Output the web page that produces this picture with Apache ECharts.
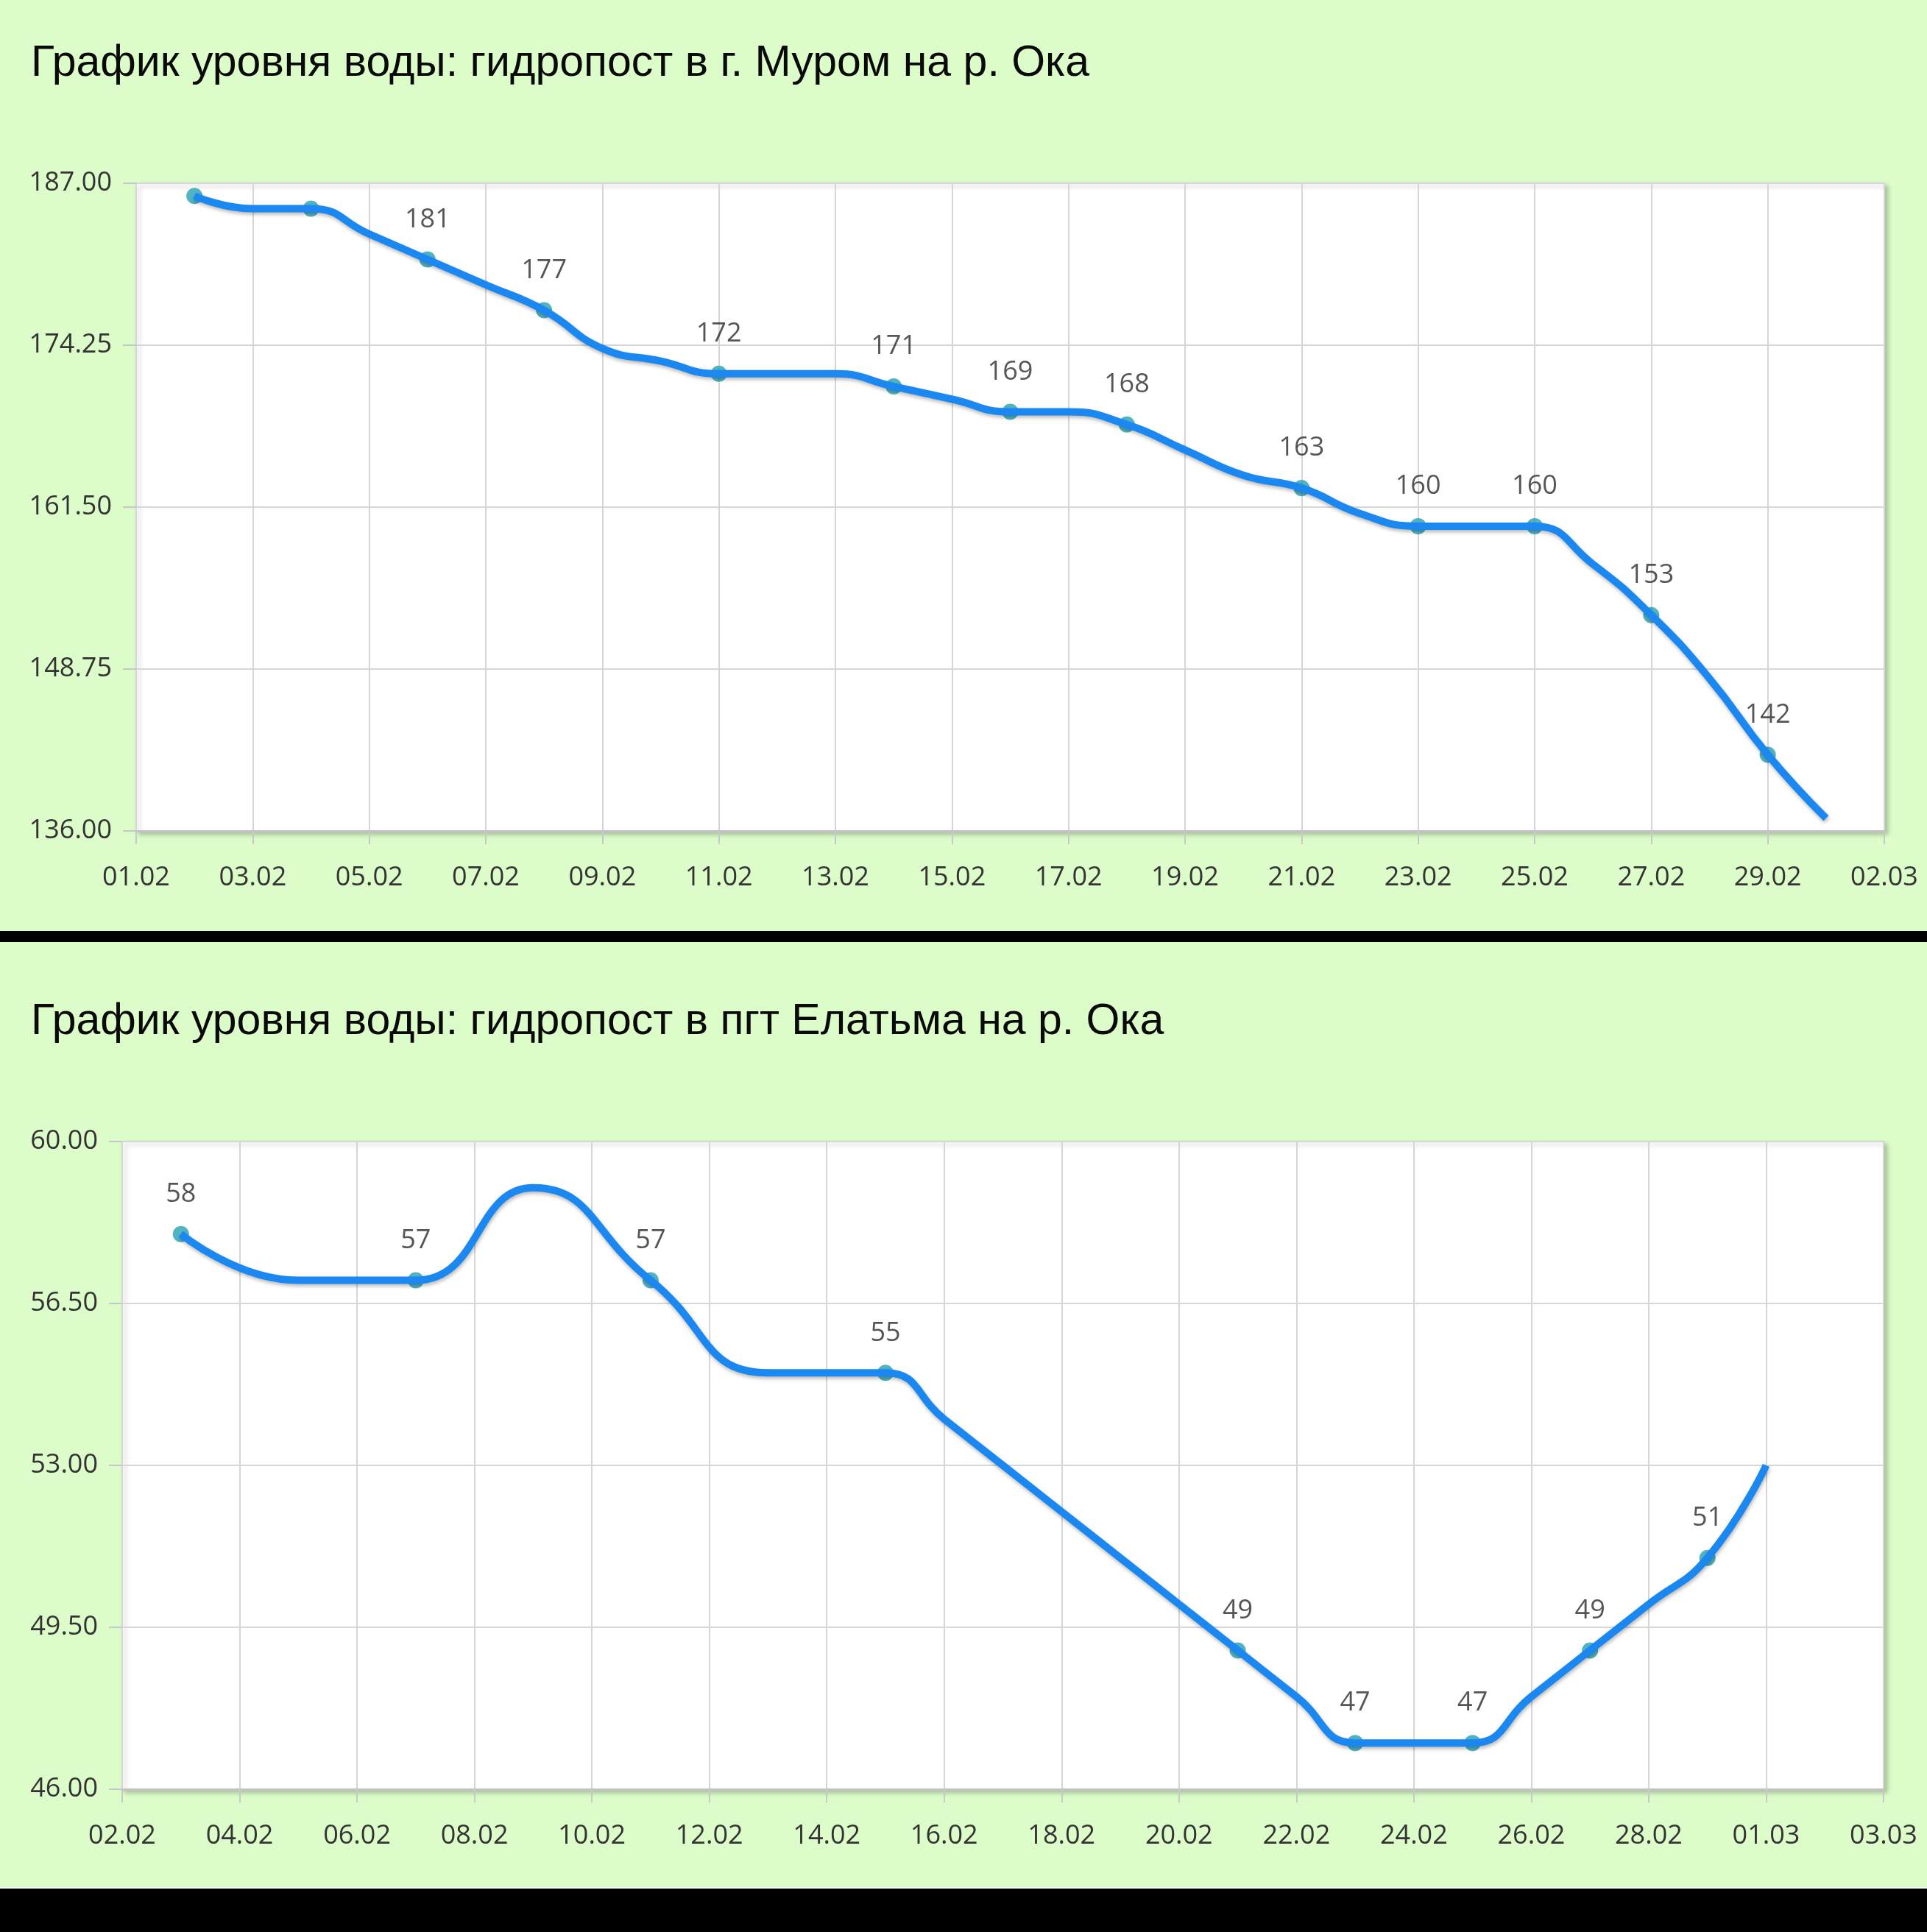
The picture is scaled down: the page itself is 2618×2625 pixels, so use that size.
<!DOCTYPE html>
<html>
<head>
<meta charset="utf-8">
<script src="https://cdn.jsdelivr.net/npm/echarts@6/dist/echarts.min.js"></script>
<style>
html,body{margin:0;padding:0;background:#dcfcc9;}
#c{width:2618px;height:2625px;}
</style>
</head>
<body>
<div id="c"></div>
<script>
// ---------- data: chart 1 (Муром) ----------
const title1 = 'График уровня воды: гидропост в г. Муром на р. Ока';
const axisStart1 = '2024-02-01';
const yTicks1 = [136, 148.75, 161.5, 174.25, 187];
const dates1 = ['2024-02-02','2024-02-03','2024-02-04','2024-02-05','2024-02-06','2024-02-07','2024-02-08',
  '2024-02-09','2024-02-10','2024-02-11','2024-02-12','2024-02-13','2024-02-14','2024-02-15','2024-02-16',
  '2024-02-17','2024-02-18','2024-02-19','2024-02-20','2024-02-21','2024-02-22','2024-02-23','2024-02-24',
  '2024-02-25','2024-02-26','2024-02-27','2024-02-28','2024-02-29','2024-03-01'];
const values1 = [186,185,185,183,181,179,177,174,173,172,172,172,171,170,169,169,168,166,164,163,161,160,160,160,157,153,148,142,137];
const marked1 = ['2024-02-02','2024-02-04','2024-02-06','2024-02-08','2024-02-11','2024-02-14','2024-02-16',
  '2024-02-18','2024-02-21','2024-02-23','2024-02-25','2024-02-27','2024-02-29'];

// ---------- data: chart 2 (Елатьма) ----------
const title2 = 'График уровня воды: гидропост в пгт Елатьма на р. Ока';
const axisStart2 = '2024-02-02';
const yTicks2 = [46, 49.5, 53, 56.5, 60];
const dates2 = ['2024-02-03','2024-02-05','2024-02-07','2024-02-09','2024-02-11','2024-02-13','2024-02-15',
  '2024-02-16','2024-02-17','2024-02-18','2024-02-19','2024-02-20','2024-02-21','2024-02-22','2024-02-23',
  '2024-02-24','2024-02-25','2024-02-26','2024-02-27','2024-02-28','2024-02-29','2024-03-01'];
const values2 = [58,57,57,59,57,55,55,54,53,52,51,50,49,48,47,47,47,48,49,50,51,53];
const marked2 = ['2024-02-03','2024-02-07','2024-02-11','2024-02-15','2024-02-21','2024-02-23','2024-02-25',
  '2024-02-27','2024-02-29'];

// ---------- helpers ----------
const DAY = 86400000;
function dayOffset(start, d) { return Math.round((Date.parse(d) - Date.parse(start)) / DAY); }
function fmtDate(start, v) {
  const dt = new Date(Date.parse(start) + v * DAY);
  const dd = String(dt.getUTCDate()).padStart(2, '0');
  const mm = String(dt.getUTCMonth() + 1).padStart(2, '0');
  return dd + '.' + mm;
}

const FONT = 'Open Sans';
const labelColor = '#333333';
const gridLineColor = '#d6d6d6';

function gridStyle(g) {
  return Object.assign({
    show: true, backgroundColor: '#ffffff', borderColor: '#d2d2d2', borderWidth: 2,
    shadowColor: 'rgba(0,0,0,0.22)', shadowBlur: 6, shadowOffsetX: 4, shadowOffsetY: 4,
    containLabel: false, outerBoundsMode: 'none'
  }, g);
}

function xAxisFor(idx, start) {
  return {
    type: 'value', gridIndex: idx, min: 0, max: 30, interval: 2,
    axisLine: { show: true, lineStyle: { color: '#c2c2c2', width: 3 } },
    axisTick: { show: true, length: 18, lineStyle: { color: '#c8c8c8', width: 2 } },
    axisLabel: { margin: 46, fontSize: 36, fontFamily: FONT, color: labelColor,
      formatter: v => fmtDate(start, v) },
    splitLine: { show: true, lineStyle: { color: gridLineColor, width: 2 } }
  };
}
function yAxisFor(idx, ticks) {
  return {
    type: 'value', gridIndex: idx, min: ticks[0], max: ticks[ticks.length - 1],
    interval: ticks[1] - ticks[0],
    axisLine: { show: false },
    axisTick: { show: true, length: 18, lineStyle: { color: '#c8c8c8', width: 2 } },
    axisLabel: { margin: 33, fontSize: 36, fontFamily: FONT, color: labelColor,
      formatter: v => v.toFixed(2) },
    splitLine: { show: true, lineStyle: { color: gridLineColor, width: 2 } }
  };
}
function seriesFor(idx, start, dates, values, marked, ticks) {
  const lo = ticks[0], hi = ticks[ticks.length - 1];
  const line = {
    type: 'line', xAxisIndex: idx, yAxisIndex: idx, z: 3,
    data: dates.map((d, i) => [dayOffset(start, d), values[i]]),
    smooth: 0.5, showSymbol: false, symbol: 'none', silent: true,
    lineStyle: { color: '#1a88f0', width: 10, shadowColor: 'rgba(0,0,0,0.28)', shadowBlur: 5, shadowOffsetX: 1, shadowOffsetY: 3 }
  };
  const pts = {
    type: 'scatter', xAxisIndex: idx, yAxisIndex: idx, z: 2, silent: true,
    symbolSize: 22,
    itemStyle: { color: '#27a0b4' },
    data: marked.map(d => {
      const v = values[dates.indexOf(d)];
      // labels that would fall outside the top of the plot area are hidden
      const room = (hi - v) / (hi - lo);
      return { value: [dayOffset(start, d), v], label: { show: room > 0.07 } };
    }),
    label: { show: true, position: 'top', distance: 25, fontSize: 36, fontFamily: FONT, color: '#2a2a2a',
      formatter: p => String(p.value[1]) }
  };
  return [line, pts];
}

const titleStyle = { fontFamily: 'Liberation Sans', fontSize: 59, fontWeight: 'normal', color: '#0a0a0a' };
const chart = echarts.init(document.getElementById('c'), null, { renderer: 'canvas' });
chart.setOption({
  backgroundColor: '#dcfcc9',
  animation: false,
  title: [
    { text: title1, left: 37, top: 52, textStyle: titleStyle },
    { text: title2, left: 37, top: 1354, textStyle: titleStyle }
  ],
  grid: [
    gridStyle({ left: 185, right: 58, top: 249, height: 880 }),
    gridStyle({ left: 166, right: 59, top: 1551, height: 880 })
  ],
  xAxis: [xAxisFor(0, axisStart1), xAxisFor(1, axisStart2)],
  yAxis: [yAxisFor(0, yTicks1), yAxisFor(1, yTicks2)],
  series: [].concat(
    seriesFor(0, axisStart1, dates1, values1, marked1, yTicks1),
    seriesFor(1, axisStart2, dates2, values2, marked2, yTicks2)
  ),
  graphic: [
    { type: 'rect', silent: true, shape: { x: 0, y: 1265, width: 2618, height: 15 }, style: { fill: '#000' } },
    { type: 'rect', silent: true, shape: { x: 0, y: 2564, width: 2618, height: 2 }, style: { fill: '#f4f4f4' } },
    { type: 'rect', silent: true, shape: { x: 0, y: 2566, width: 2618, height: 59 }, style: { fill: '#000' } }
  ]
});
</script>
</body>
</html>
